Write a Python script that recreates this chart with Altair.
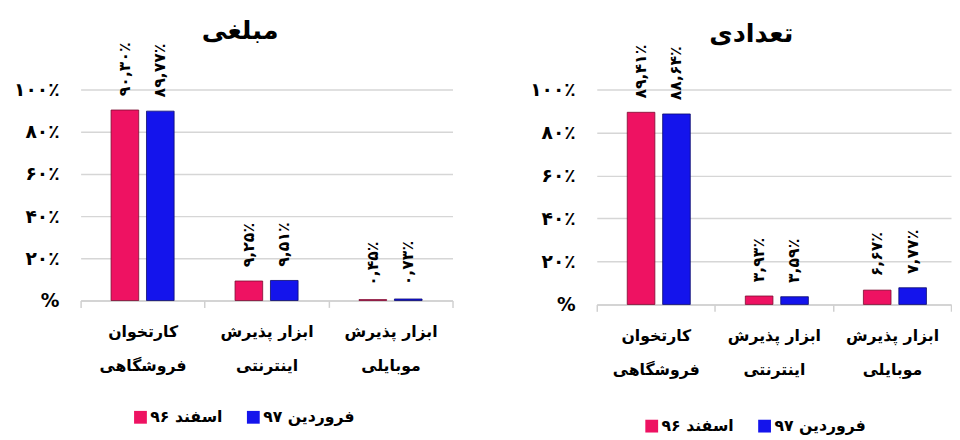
import altair as alt
import pandas as pd

# ---- data ----
categories = ["کارتخوان|فروشگاهی", "ابزار پذیرش|اینترنتی", "ابزار پذیرش|موبایلی"]
series = ["اسفند ۹۶", "فروردین ۹۷"]
amount_esfand = [90.30, 9.25, 0.45]
amount_farvardin = [89.77, 9.51, 0.73]
count_esfand = [89.41, 3.93, 6.67]
count_farvardin = [88.64, 3.59, 7.77]
y_ticks = [0, 20, 40, 60, 80, 100]
y_tick_labels = ["%", "۲۰٪", "۴۰٪", "۶۰٪", "۸۰٪", "۱۰۰٪"]
panel_titles = ["مبلغی", "تعدادی"]
series_colors = ["#EE1262", "#1414EC"]

FONT = "DejaVu Sans"
FA_DIGITS = str.maketrans("0123456789.", "۰۱۲۳۴۵۶۷۸۹,")


def fa_pct(v):
    return f"{v:.2f}".translate(FA_DIGITS) + "٪"


ylabel_expr = " : ".join(
    f"datum.value == {t} ? '{lab}'" for t, lab in zip(y_ticks, y_tick_labels)
) + " : ''"


def panel(esf, far, title, width, height, title_dx, leg_x, leg_y):
    rows = []
    for i, c in enumerate(categories):
        for s, vals in zip(series, [esf, far]):
            rows.append({"cat": c, "series": s, "value": vals[i], "label": fa_pct(vals[i])})
    df = pd.DataFrame(rows)

    x = alt.X(
        "cat:N",
        sort=categories,
        scale=alt.Scale(paddingInner=0, paddingOuter=0),
        axis=alt.Axis(
            title=None,
            labelAngle=0,
            labelExpr="split(datum.label, '|')",
            labelFont=FONT,
            labelFontSize=16,
            labelFontWeight="bold",
            labelColor="black",
            labelLineHeight=34,
            labelPadding=17,
            tickBand="extent",
            tickSize=7,
            tickColor="#d0d0d0",
            tickWidth=1.5,
            domainColor="#d0d0d0",
            domainWidth=1.5,
            grid=False,
        ),
    )
    xo = alt.XOffset(
        "series:N", sort=series, scale=alt.Scale(paddingInner=0.22, paddingOuter=0.86)
    )
    y = alt.Y(
        "value:Q",
        scale=alt.Scale(domain=[0, 100]),
        axis=alt.Axis(
            title=None,
            values=y_ticks,
            labelExpr=ylabel_expr,
            labelFont=FONT,
            labelFontSize=19,
            labelFontWeight="bold",
            labelColor="black",
            labelPadding=22,
            domain=False,
            ticks=False,
            grid=True,
            gridColor="#d6d6d6",
            gridWidth=1.5,
            minExtent=64,
            maxExtent=64,
        ),
    )
    base = alt.Chart(df).encode(x=x, xOffset=xo, y=y)
    bars = base.mark_bar(strokeWidth=0.8).encode(
        color=alt.Color(
            "series:N",
            sort=series,
            scale=alt.Scale(domain=series, range=series_colors),
            legend=alt.Legend(
                title=None,
                orient="none",
                legendX=leg_x,
                legendY=leg_y,
                direction="horizontal",
                symbolType="square",
                symbolSize=170,
                symbolStrokeWidth=0,
                labelFont=FONT,
                labelFontSize=16,
                labelFontWeight="bold",
                labelColor="black",
                labelOffset=2,
                columnPadding=23,
            ),
        ),
        stroke=alt.Stroke(
            "series:N",
            sort=series,
            scale=alt.Scale(domain=series, range=["#7a0a30", "#0a0a6a"]),
            legend=None,
        ),
    )
    labels = base.mark_text(
        angle=270,
        align="left",
        baseline="middle",
        dx=14,
        font=FONT,
        fontSize=16,
        fontWeight="bold",
        color="black",
    ).encode(text="label:N")
    return alt.layer(bars, labels).properties(
        width=width,
        height=height,
        title=alt.TitleParams(
            text=title,
            font=FONT,
            fontSize=26,
            fontWeight="bold",
            color="black",
            anchor="middle",
            offset=0,
            dx=title_dx,
            dy=2,
        ),
    ).resolve_scale(color="independent", stroke="independent")


left = panel(amount_esfand, amount_farvardin, panel_titles[0], 379, 215, -27, 53, 326)
right = panel(count_esfand, count_farvardin, panel_titles[1], 361, 219, -23, 48, 335)

chart = (
    alt.hconcat(left, right, spacing=77)
    .resolve_scale(color="independent", stroke="independent")
    .resolve_legend(color="independent")
    .properties(padding={"left": 5, "top": 6, "right": 0, "bottom": 0})
    .configure_view(stroke=None)
)

chart.save("out.html", embed_options={"renderer": "svg", "actions": False})
